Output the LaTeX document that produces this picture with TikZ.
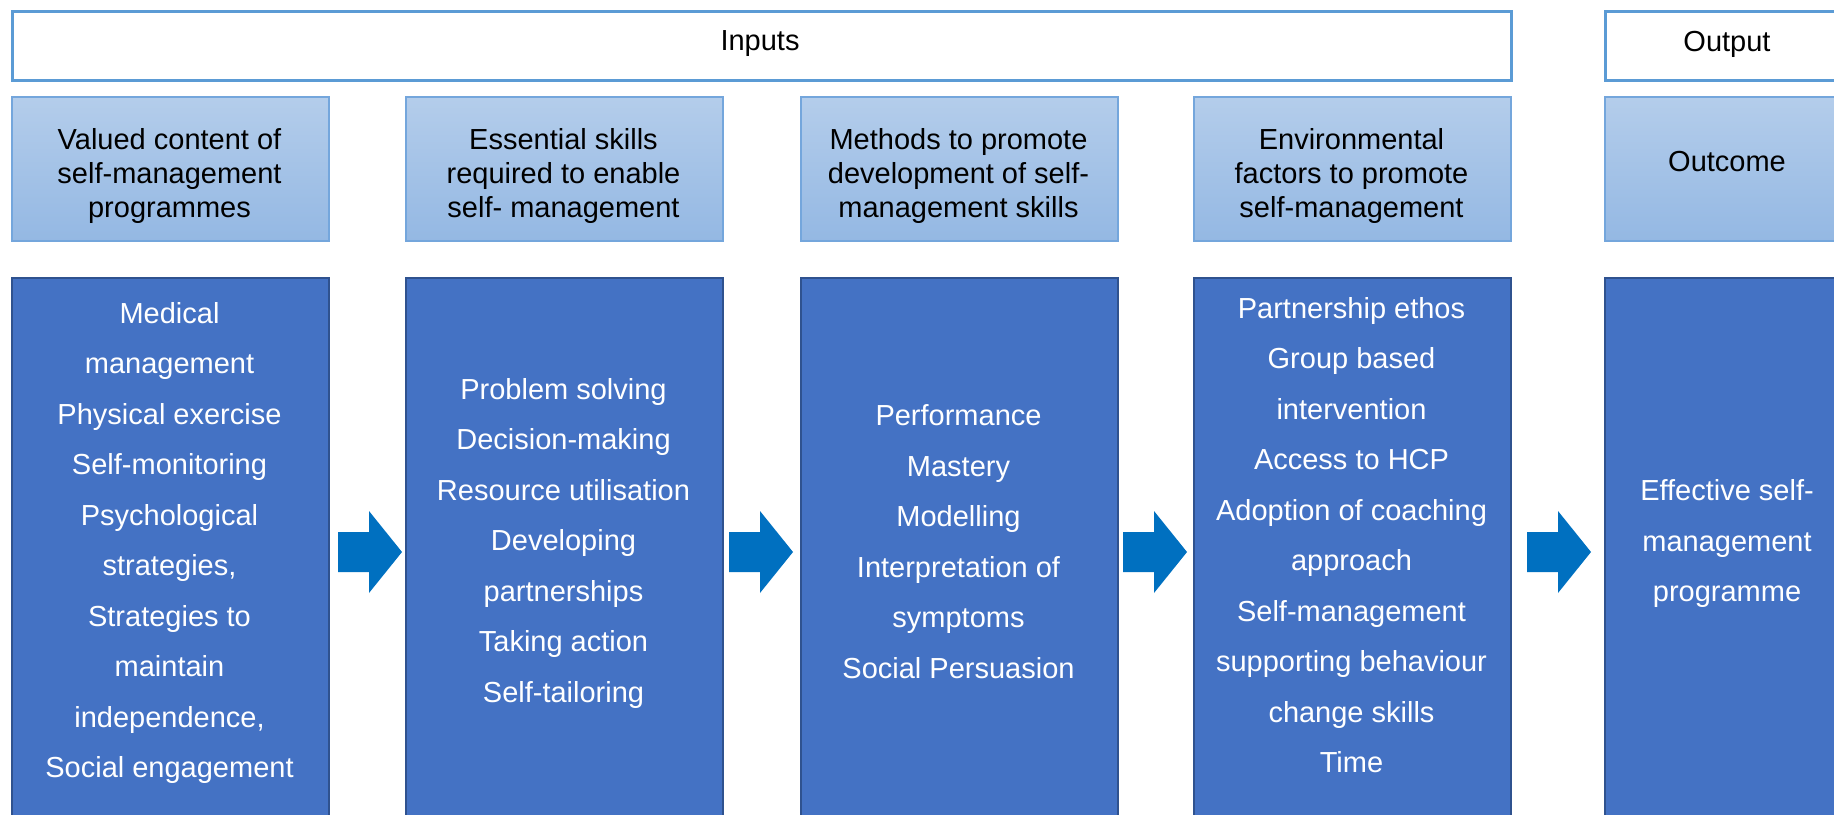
\documentclass[tikz,border=0pt]{standalone}
\usepackage{fontspec}
\setmainfont{Liberation Sans}
\usetikzlibrary{calc}

\definecolor{topline}{HTML}{5B9BD5}
\definecolor{headline}{HTML}{74A6DC}
\definecolor{headtop}{HTML}{B4CDEB}
\definecolor{headbot}{HTML}{94B8E3}
\definecolor{mainline}{HTML}{2F528F}
\definecolor{mainfill}{HTML}{4472C4}
\definecolor{arrowblue}{HTML}{0070C0}

\tikzset{
  topbox/.style={rectangle, draw=topline, line width=2.5pt, fill=white,
    inner sep=0pt, anchor=north west, minimum height=69pt},
  headbox/.style={rectangle, draw=headline, line width=1.5pt,
    top color=headtop, bottom color=headbot,
    inner sep=0pt, anchor=north west, minimum width=317pt, minimum height=144pt},
  mainbox/.style={rectangle, draw=mainline, line width=2pt, fill=mainfill,
    inner sep=0pt, anchor=north west, minimum width=317pt, minimum height=600pt},
  toptext/.style={font=\fontsize{29}{34}\selectfont, text=black},
  headtext/.style={align=center, font=\fontsize{29}{34}\selectfont, text=black},
  bodytext/.style={align=center, font=\fontsize{29}{50.5}\selectfont, text=white},
  blockarrow/.style={fill=arrowblue, draw=none},
}

\begin{document}
\begin{tikzpicture}[x=1pt, y=-1pt]
\useasboundingbox (0,0) rectangle (1834,814);
\clip (0,0) rectangle (1834,814);

% top bands
\node[topbox, minimum width=1499pt] (inputs) at (11,10) {};
\node[topbox, minimum width=330pt] (output) at (1604,10) {};
\node[toptext] (inputsT) at (760,44) {Inputs};
\node[toptext] (outputT) at (1727,44) {Output};

% column headers
\node[headbox] (h1) at (11,96) {};
\node[headbox] (h2) at (405,96) {};
\node[headbox] (h3) at (800,96) {};
\node[headbox] (h4) at (1193,96) {};
\node[headbox] (h5) at (1604,96) {};

\node[headtext] (h1T) at (169.5,176) {Valued content of\\self-management\\programmes};
\node[headtext] (h2T) at (563.5,176) {Essential skills\\required to enable\\self- management};
\node[headtext] (h3T) at (958.5,176) {Methods to promote\\development of self-\\management skills};
\node[headtext] (h4T) at (1351.5,176) {Environmental\\factors to promote\\self-management};
\node[headtext] (h5T) at (1727,162) {Outcome};

% content columns
\node[mainbox] (b1) at (11,277) {};
\node[mainbox] (b2) at (405,277) {};
\node[mainbox] (b3) at (800,277) {};
\node[mainbox] (b4) at (1193,277) {};
\node[mainbox] (b5) at (1604,277) {};

\node[bodytext] (b1T) at (169.5,543) {Medical\\management\\Physical exercise\\Self-monitoring\\Psychological\\strategies,\\Strategies to\\maintain\\independence,\\Social engagement};
\node[bodytext] (b2T) at (563.5,543) {Problem solving\\Decision-making\\Resource utilisation\\Developing\\partnerships\\Taking action\\Self-tailoring};
\node[bodytext] (b3T) at (958.5,541.5) {Performance\\Mastery\\Modelling\\Interpretation of\\symptoms\\Social Persuasion};
\node[bodytext] (b4T) at (1351.5,535) {Partnership ethos\\Group based\\intervention\\Access to HCP\\Adoption of coaching\\approach\\Self-management\\supporting behaviour\\change skills\\Time};
\node[bodytext] (b5T) at (1727,543.5) {Effective self-\\management\\programme};

% block arrows between the columns
\coordinate (a1) at (338,552);
\coordinate (a2) at (729,552);
\coordinate (a3) at (1123,552);
\coordinate (a4) at (1527,552);
\foreach \a in {a1,a2,a3,a4}{
  \fill[blockarrow] (\a) ++(0,-20) -- ++(31,0) -- ++(0,-21) -- ++(33,41)
    -- ++(-33,41) -- ++(0,-21) -- ++(-31,0) -- cycle;
}
\end{tikzpicture}
\end{document}
